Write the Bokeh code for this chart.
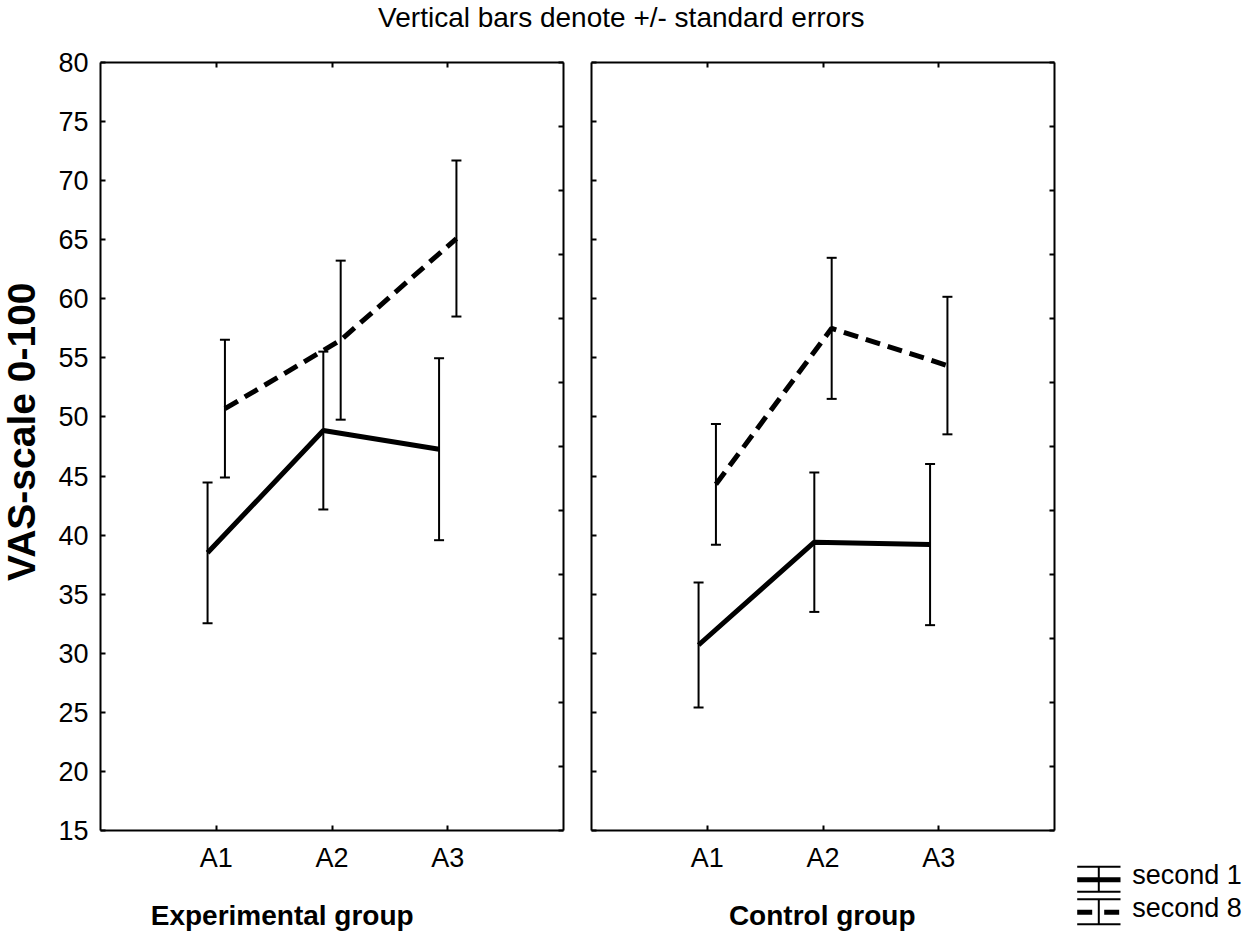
import math
from bokeh.plotting import figure
from bokeh.models import (Range1d, LinearAxis, FixedTicker, Whisker, TeeHead,
                          ColumnDataSource)
from bokeh.layouts import column, row
from bokeh.embed import file_html
from bokeh.resources import INLINE
from bokeh.core.properties import value

# ---------------- data ----------------
categories = ["A1", "A2", "A3"]
y_ticks = list(range(15, 81, 5))

exp_sec1_mean = [38.5, 48.85, 47.27]
exp_sec1_se = [5.95, 6.68, 7.70]
exp_sec8_mean = [50.7, 56.5, 65.1]
exp_sec8_se = [5.83, 6.73, 6.60]

ctl_sec1_mean = [30.7, 39.4, 39.2]
ctl_sec1_se = [5.28, 5.90, 6.82]
ctl_sec8_mean = [44.3, 57.5, 54.35]
ctl_sec8_se = [5.11, 5.97, 5.82]

series_names = ["second 1", "second 8"]
group_names = ["Experimental group", "Control group"]
title_text = "Vertical bars denote +/- standard errors"
y_label = "VAS-scale 0-100"

FONT = "Liberation Sans"
DASH = "15 8"
OFFSET = 0.075  # horizontal dodge of the two series (category units)

PANEL_H = 830   # height of the panel row
TOTAL_H = 937


def blank_fig(width, height):
    f = figure(width=width, height=height, x_range=Range1d(0, width), y_range=Range1d(0, height),
               output_backend="svg", toolbar_location=None,
               x_axis_location=None, y_axis_location=None, min_border=0)
    f.outline_line_color = None
    f.xgrid.visible = False
    f.ygrid.visible = False
    return f


def style_axis(ax, labels=True):
    ax.axis_line_width = 2
    ax.axis_line_color = "black"
    ax.major_tick_line_width = 2
    ax.major_tick_line_color = "black"
    ax.major_tick_in = 5
    ax.major_tick_out = 0
    ax.minor_tick_line_color = None
    if labels:
        ax.major_label_text_font = FONT
        ax.major_label_text_font_size = "27px"
        ax.major_label_text_color = "black"
        ax.major_label_standoff = 12
    else:
        ax.major_label_text_font_size = "0px"
        ax.major_label_text_color = None
        ax.major_label_standoff = 0


def make_panel(width, mb_left, mb_right, s1m, s1e, s8m, s8e, show_ylabels):
    p = figure(width=width, height=PANEL_H, x_range=Range1d(0, 4), y_range=Range1d(15, 80),
               output_backend="svg", toolbar_location=None,
               x_axis_location=None, y_axis_location=None,
               min_border_left=mb_left, min_border_right=mb_right,
               min_border_top=14, min_border_bottom=48)
    p.outline_line_color = None
    p.xgrid.visible = False
    p.ygrid.visible = False
    p.extra_y_ranges = {"r12": Range1d(0, 12)}

    cat_pos = [i + 1 for i in range(len(categories))]

    bottom = LinearAxis(ticker=FixedTicker(ticks=cat_pos),
                        major_label_overrides={c: lab for c, lab in zip(cat_pos, categories)})
    style_axis(bottom, True)
    p.add_layout(bottom, "below")

    top = LinearAxis(ticker=FixedTicker(ticks=cat_pos))
    style_axis(top, False)
    p.add_layout(top, "above")

    left = LinearAxis(ticker=FixedTicker(ticks=y_ticks))
    style_axis(left, show_ylabels)
    p.add_layout(left, "left")

    right = LinearAxis(y_range_name="r12", ticker=FixedTicker(ticks=list(range(13))))
    style_axis(right, False)
    p.add_layout(right, "right")

    for means, ses, shift, dash in [(s1m, s1e, -OFFSET, "solid"), (s8m, s8e, OFFSET, DASH)]:
        xs = [c + shift for c in cat_pos]
        src = ColumnDataSource(dict(x=xs, y=means,
                                    upper=[m + s for m, s in zip(means, ses)],
                                    lower=[m - s for m, s in zip(means, ses)]))
        p.line("x", "y", source=src, line_width=5, line_color="black", line_dash=dash)
        w = Whisker(base="x", upper="upper", lower="lower", source=src, dimension="height",
                    line_width=2, line_color="black",
                    upper_head=TeeHead(size=10, line_width=2, line_color="black"),
                    lower_head=TeeHead(size=10, line_width=2, line_color="black"))
        p.add_layout(w)
    return p


# title strip: page y 0..48
tf = blank_fig(1250, 48)
tf.text(x=[620.8], y=[31.3], text=[title_text], text_font=value(FONT),
        text_font_size="28px", text_align="center", text_baseline="alphabetic",
        text_color="black")

# y-axis title: page x 0..45, y 48..878
yl = blank_fig(45, PANEL_H)
yl.text(x=[21], y=[431], text=[y_label], angle=math.pi / 2, text_font=value(FONT),
        text_font_size="39px", text_font_style="bold", text_align="center",
        text_baseline="alphabetic", text_color="black")

# panels: frames at page x 100..563 and 591..1054, y 62..830
p1 = make_panel(532, 55, 14, exp_sec1_mean, exp_sec1_se, exp_sec8_mean, exp_sec8_se, True)
p2 = make_panel(490, 14, 13, ctl_sec1_mean, ctl_sec1_se, ctl_sec8_mean, ctl_sec8_se, False)

# group names strip: page x 0..1067, y 878..937
gs = blank_fig(1067, TOTAL_H - 48 - PANEL_H)
gs.text(x=[281.7, 821.7], y=[22, 22], text=group_names, text_font=value(FONT),
        text_font_size="28px", text_font_style="bold", text_align="center",
        text_baseline="alphabetic", text_color="black")

# legend: page x 1067..1250, y 48..937 (y measured up from page bottom)
lg = blank_fig(183, TOTAL_H - 48)
sym_x0, sym_x1, sym_xc = 9.7, 53.0, 31.3
row_y = [57.7, 25.3]
row_dash = ["solid", "15 12"]
for yc, dash, name in zip(row_y, row_dash, series_names):
    lg.segment(x0=[sym_x0, sym_x0, sym_xc], y0=[yc + 13, yc - 12, yc + 13],
               x1=[sym_x1, sym_x1, sym_xc], y1=[yc + 13, yc - 12, yc - 12],
               line_width=2, line_color="black")
    lg.segment(x0=[sym_x0], y0=[yc], x1=[sym_x1], y1=[yc], line_width=5,
               line_color="black", line_dash=dash)
    lg.text(x=[64.7], y=[yc + 4.5], text=[name], text_font=value(FONT),
            text_font_size="27px", text_baseline="alphabetic", text_align="left",
            text_color="black")

layout = column(
    tf,
    row(column(row(yl, p1, p2, spacing=0), gs, spacing=0), lg, spacing=0),
    spacing=0,
)

open("out.html", "w").write(file_html(layout, INLINE))
